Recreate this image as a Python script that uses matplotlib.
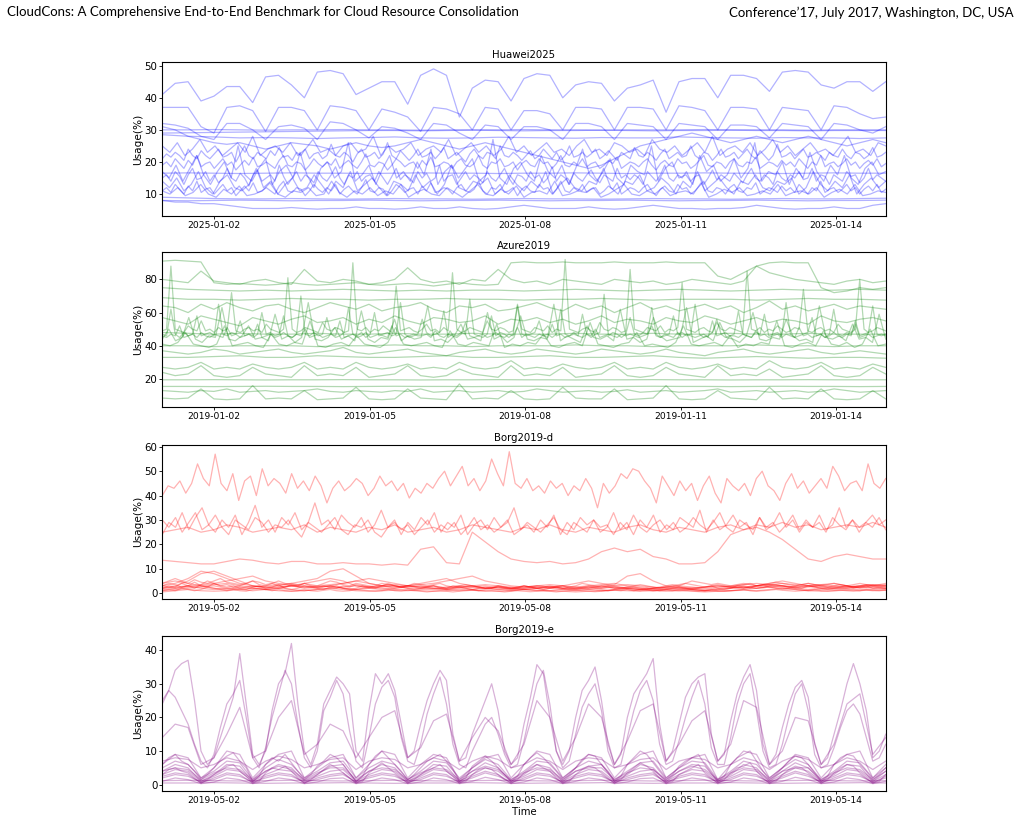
import numpy as np
import pandas as pd
import matplotlib
matplotlib.use('Agg')
import matplotlib.pyplot as plt
import matplotlib.dates as mdates

plt.rcParams['font.family'] = ['DejaVu Sans']

#%% datos (uso %), cada serie cubre 14 dias (0 a 335 h)
HORAS = 335
t0_hw = pd.Timestamp('2025-01-01 00:00')
t0_az = pd.Timestamp('2019-01-01 00:00')
t0_bg = pd.Timestamp('2019-05-01 00:00')

# Huawei2025
hw_1 = [41,44.5,45,39,40.5,43.5,43.5,38.5,46.5,47,44,40,48,48.5,47.5,41,43,45,45,38,47,49,47,34,43,45.5,45,39,46,47.5,47,40,44,45,44.5,39,43,44,45.5,35.5,45,46,46,40,47,47,46,42,48,48.5,48,44,43,45,45,42,45]
hw_2 = [37,37,37,31,29,37,37.5,36,29.5,37,37,36,30,37.5,37,36,30,36.5,35.5,34,29.5,37,36.5,35,30,37,36.5,30,36,36,35,30,37,37,36.5,30,37,37,36.5,30,37.5,37,36,30,37,37,36.5,30,37,36.5,36,30,37.5,37,35,33.5,34]
hw_3 = [32,31.5,30.5,28,27,32,32,30,27,31,31.5,30.5,27,32.5,32,30,27.5,31,30.5,29,27,32,31.5,29,27,31.5,31,27,31,31,30,27,32,32,31,27,32,31.5,31,27,32,31.5,31,27,31.5,31.5,31,27.5,32,31.5,31,27,32,31.5,30,29,31]
hw_4 = [30,30,30.1,30,29.9,30,30,30.1,30,30,29.9,30,30,30,30.1,30,30,29.9,30,30,30,30.1,30,30,30,29.9,30,30,30]
hw_5 = [29,29.1,29.2,29.3,29.4,29.5,29.6,29.7,29.8,29.8,29.7,29.8,29.9,29.8,29.7,29.8,29.8,29.9,29.8,29.7,29.8,29.8,29.9,29.8,29.8,29.7,29.8,29.8,29.8]
hw_6 = [28.5,28,27.8,27.5,27.6,27.5,27.3,27.5,27.6,27.8,27.5,27.4,27.5,27.7,27.6,27.5,27.4,27.6,27.5,27.5,27.8,27.6,27.5,27.4,27.6,27.5,27.5,27.3,27.5]
hw_7 = [31,30,28,27,26,25.5,26,25,24,25,26,25.5,25,24,25,26,25,24.5,25,26,27,26,25,24,25,26,25,24,23,22,21,20,19,18,19,21,23,25,26,27,28,29,28,27,26,27,28,27,26,27,28,27,26,25,26,27,26]
hw_8 = [16.5,16.6,16.5,16.4,16.5,16.6,16.5,16.5,16.4,16.5,16.6,16.5,16.5,16.4,16.5,16.5,16.6,16.5,16.4,16.5,16.5,16.6,16.5,16.5,16.4,16.5,16.6,16.5,16.5]
hw_9 = [9,8.8,8.6,8.5,8.5,8.6,8.5,8.4,8.5,8.6,8.5,8.5,8.4,8.5,8.6,8.5,8.5,8.4,8.5,8.6,8.5,8.5,8.4,8.5,8.6,8.5,8.5,8.6,8.7]
hw_10 = [8,7.9,8,8.1,8,7.9,8,8,8.1,8,7.9,8,8,8.1,8,7.9,8,8,8.1,8,7.9,8,8,8.1,8,7.9,8,8,8.1]
hw_11 = [8,7.5,7.5,7,7,6.5,6,5.5,5.5,5.5,5.8,5.5,5.3,5.5,5.5,6,5.5,5.5,5.3,5.5,6,5.5,5.5,6,5.5,5.3,5.5,6,6.5,6,5.5,5.5,5.5,6,5.5,5.3,5.5,6,6.5,6,5.5,5.5,5.3,5.5,5.5,5.8,6.5,6,5.5,5.3,5.5,5.5,6,5.5,5.5,6.5,7]
hw_12 = [21,22.5,21.5,23,22,20.5,24,22,21,23.5,22,21, 22.5,24,21.5,22,23,20,22.5,25,22,21,23,22,
         21,23.5,22,24.5,21.5,22,20.5,23,22,24,21,22.5, 23,21,22,25.5,22,21.5,23,22,20,22.5,24,21.5,
         22,23,21,22.5,26,22,21,23.5,22,20.5,22,24, 21.5,22,23,21,22.5,24.5,21,22,23,21.5,20,22.5,
         24,22,21,23,22.5,21,25,22,21.5,23,22,20.5, 22,23.5,21,22,24,22.5,21,23,20.5,22,25,21.5,
         22,23,21.5,22.5,24,21,22,23.5,22,20.5,23,22, 21,24.5,22,21.5,23,22,20.5,22.5,24,21,22,23,
         21.5,22,25,22,21,23,22.5,20.5,22,24,21.5,22, 23,21,22.5,24,22,21,23.5,22,20.5,22,25.5,21.5,
         22,23,21,22.5,24,21.5,22,23,22,20.5,23,22, 21.5,24,22,21,23,22.5,21,22,24.5,21.5,22,23]
hw_13 = [19,20,18.5,21,19.5,18,20.5,19,22,18.5,19.5,20, 18,19.5,21,19,20,17.5,19,20.5,19,21.5,18.5,19,
         20,19,18,20.5,22,19,18.5,20,19.5,17.5,19,21, 19.5,18.5,20,19,21,18,19.5,20.5,19,18,20,22.5,
         19,18.5,20,19.5,17.5,19,21,20,18.5,19.5,20,18, 20.5,19,21.5,18.5,19,20,19.5,18,20,21,19,18.5,
         19.5,22,19,18,20,19.5,21,18.5,19,20,17.5,19.5, 20.5,19,18.5,21,19.5,20,18,19.5,22,19,18.5,20,
         19,21,18.5,19.5,20,18,19,20.5,19.5,21.5,18,19, 20,19.5,18.5,20,21,19,17.5,19.5,20.5,19,18.5,21,
         19.5,20,18,19,20.5,22,19,18.5,20,19.5,18,20, 21,19,18.5,20,19.5,21.5,18,19,20,19.5,18.5,20.5,
         19,20,18.5,21,19.5,18,20,19,22,18.5,19.5,20, 18.5,19.5,21,19,20,18,19.5,20.5,19,21,18.5,19.5]
hw_14 = [17,15,19,14,18,22,16,13,17,20,15,25,16,14,18,21,13,17,19,15,23,16,12,18,20,15,17,26,14,16,19,13,18,22,15,17,14,20,16,24,13,17,19,15,18,21,14,16,27,15,13,18,20,16,14,22,17,15,19,13,18,24,16,14,17,21,15,13,19,17,16,25,14,18,20,15,16,13,22,17,19,14,16,21,15,18,26,14,17,16,20,13,18,15,23,17,14,19,16,22,15,13,18,20,16,17]
hw_15 = [14,12,15,11,13,17,12,10,14,16,12,11,13,18,12,14,10,13,15,11,12,16,13,10,14,12,17,11,13,15,12,9.5,14,13,11,16,12,14,10,13,19,12,11,14,13,15,10,12,16,13,11,14,12,17,10,13,15,12,11,14,13,18,12,10,14,13,16,11,12,15,13,10,14,12,17,11,13,15,12,10,14,13,16,12,11,14,13,15,10,12,17,13,11,14,12,16,10,13,15,12,14]
hw_16 = [11,10,12,9.5,10.5,13,10,9,11.5,10,12.5,9.5,10,11,13.5,10,9,11,10.5,12,9.5,10,14,10.5,9,11,10,12,9.5,11,10,13,9,10.5,11.5,10,9.5,12,10.5,9,11,13,10,9.5,11.5,10,12.5,9,10.5,11,10,14,9.5,10,11,10.5,12,9,10,11.5,13,10,9.5,11,10,12,9.5,10.5,11,10,13.5,9,10,11.5,10.5,12,9.5,10,11,10,13,9.5,10.5,11,10,12,9,10.5,11.5,10,13,9.5,10,11,10.5]
hw_17 = [25,23,26,22,24,27,23,25,22,24,26,23,28,22,24,25,23,26,22,24,27,23,24,22,25,26,23,24,28,22,25,23,24,26,22,24,25,23,27,22,24,26,23,25,22,24,28,23,25,22,24,26,23,24,22,25,27,23,24,22,26,25,23,24,22,27,24,23,25,22,24,26,23,28,22,24,25,23,26,22,24,27,23,25,22,24,26,23,24,22,25,28,23,24,22,26,25]
hw_18 = [15,16,14,17,15.5,13,16,18,14.5,15,17,14, 16,13.5,15,18,15,14,16.5,15,12.5,16,17.5,14,
         15,16,14,19,15.5,13,15,17,14,16,15,13.5, 17,15,14,16,18.5,15,13,16,15,17,14,15.5,
         16,14,17,15,13,15.5,18,14.5,16,15,13.5,17, 15,16.5,14,15,19,14,15.5,16,13,15,17,14.5,
         16,15,13.5,17,15,14,16,18,15,13,16,15.5, 14,17,15,16,13.5,15,18.5,14,16,15,13,16.5,
         15,14,16,17.5,15,13.5,16,15,14,18,15,16, 14.5,16,15,13,17,15.5,14,16,19,15,14,16,
         15,17,14,15.5,16,13,15,17.5,14.5,16,15,14, 16.5,15,13.5,16,18,15,14,16,15,13,17,15,
         14,16,15,17,14.5,15,18,14,16,15.5,13,16, 15,14,17,15.5,16,13.5,15,18,14.5,16,15,14]
hw_19 = [11,12,10.5,13,11.5,10,12.5,11,14,10.5,11.5,12, 10,11.5,13,11,12,9.5,11,12.5,11,13.5,10.5,11,
         12,11,10,12.5,14,11,10.5,12,11.5,9.5,11,13, 11.5,10.5,12,11,13,10,11.5,12.5,11,10,12,14.5,
         11,10.5,12,11.5,9.5,11,13,12,10.5,11.5,12,10, 12.5,11,13.5,10.5,11,12,11.5,10,12,13,11,10.5,
         11.5,14,11,10,12,11.5,13,10.5,11,12,9.5,11.5, 12.5,11,10.5,13,11.5,12,10,11.5,14,11,10.5,12,
         11,13,10.5,11.5,12,10,11,12.5,11.5,13.5,10,11, 12,11.5,10.5,12,13,11,9.5,11.5,12.5,11,10.5,13,
         11.5,12,10,11,12.5,14,11,10.5,12,11.5,10,12, 13,11,10.5,12,11.5,13.5,10,11,12,11.5,10.5,12.5,
         11,12,10.5,13,11.5,10,12,11,14,10.5,11.5,12, 10.5,11.5,13,11,12,10,11.5,12.5,11,13,10.5,11.5]

# Azure2019
az_1 = [91,91.5,91,90.5,78,77,77.5,77,76.5,77,78,77,76.5,77,77.5,78,77,76.5,77,77.5,77,76,77,78,77,76.5,77,90,90.5,90,90,90.5,90,90,90,90.5,90,90,90,90.5,90,90,90,82,80,84,88,90,90.5,90,90,75,72,73,75,74,75]
az_2 = [80,79,78,85,79,78,77,79,80,78,77,86,79,78,80,79,77,78,80,87,80,78,79,77,80,79,86,80,78,79,77,80,79,78,77,80,79,78,79,77,78,80,79,78,77,79,88,84,82,80,79,78,77,79,80,78,79]
az_3 = [75,74,73.5,73,73.5,73,73.5,74,73.5,73,73.5,73,73.5,73.5,73,73.5,74,73.5,73,73.5,74,73.5,73,73.5,74,73.5,73.5,74,73.5]
az_4 = [69,68,68,67.5,68,68.5,68,68,67.5,68,68,68.5,68,68,67.5,68,68,68.5,68,67.5,68,68,68,67.5,68,68.5,68,68,67.5]
az_5 = [64,63,60,65,62,66,63,61,64,65,62,60,63,66,64,62,65,61,63,64,66,62,60,64,63,65,61,62,64,66,63,61,65,62,64,60,63,66,62,64,61,63,65,62,64,60,63,67,62,64,61,63,65,62,64,63,62]
az_6 = [57,55,53,58,56,54,52,57,55,53,56,58,54,55,57,53,56,54,58,55,53,57,56,54,55,58,53,56,55,57,54,56,53,55,58,54,56,55,53,57,55,54,58,56,53,55,57,54,56,55,53,58,55,54,56,57,55]
az_7 = [47,46,62,47,45,48,46,47,58,46,47,48, 46,65,47,46,48,47,55,46,47,45,47,60,
        47,48,46,47,58,46,45,47,70,47,46,48, 46,47,57,47,45,46,48,63,47,46,48,45,
        47,60,46,47,48,46,47,66,47,45,46,47, 56,48,46,47,48,61,45,47,46,48,47,68,
        47,46,45,47,58,46,48,47,45,47,64,47, 46,47,48,55,46,47,45,47,62,47,46,48,
        46,59,47,45,47,48,71,46,48,47,45,47, 57,47,46,48,47,63,47,45,46,47,58,47,
        48,46,47,65,47,45,46,48,56,47,48,46, 47,61,47,46,45,48,47,59,46,47,48,46,
        66,47,45,46,47,48,57,46,47,45,47,62, 47,46,48,47,55,46,47,48,64,47,46,47]
az_8 = [44,50,43,45,57,44,42,46,45,63,44,43,46,52,44,45,43,59,44,46,42,45,66,44,43,45,51,44,46,43,61,44,42,45,44,56,43,46,44,45,64,43,44,42,46,53,44,45,43,60,44,46,42,45,58,44,43,45,44,65,43,46,44,42,52,45,44,46,43,62,44,45,42,44,57,46,43,44,45,63,42,44,46,43,54,45,44,42,46,60,44,43,45,44,56,46,43,44,42,64,45,44,46,43,53,44,45,42,59,44]
az_9 = [49,50,88,50,49,48,52,50,49,55,49,50, 48,51,49,50,72,49,48,50,51,49,50,48,
        53,50,49,48,50,81,50,48,49,51,50,49, 48,54,50,49,51,50,48,49,90,50,49,51,
        48,50,49,52,50,48,76,49,50,51,49,48, 50,53,49,50,48,51,49,84,50,48,49,51,
        50,49,48,55,50,49,51,50,48,49,65,50, 49,48,51,50,49,52,48,50,49,92,50,49,
        48,50,51,49,48,54,50,49,51,50,48,49, 86,50,49,48,51,50,49,52,48,50,49,51,
        78,50,49,48,50,51,49,48,54,50,49,51, 50,49,48,85,50,49,51,48,50,49,52,50,
        48,49,51,50,74,49,48,50,51,49,50,48, 53,50,49,48,50,80,50,48,49,51,50,49]
az_10 = [41,40,42,48,41,40,39,41,52,40,41,42,40,39,47,41,40,42,41,55,40,39,41,42,40,46,41,40,39,42,51,41,40,41,42,40,39,49,41,40,42,41,40,53,39,41,40,42,41,47,40,39,41,42,40,54,41,40,39,41,42,48,40,41,40,39,42,52,41,40,41,42,40,46,39,41,40,42,41,55,40,39,41,42,40,49,41,40,42,39,41,50,40,41]
az_11 = [48,47.5,47,47.5,47,47,47.5,47,47,47.5,47,47,47.5,47,47,47,47.5,47,47,47.5,47,47,47.5,47,47,47.5,47,47,47]
az_12 = [40,40,39.5,40,40,40,39.5,40,40,40.5,40,40,39.5,40,40,40,40.5,40,40,39.5,40,40,40,40.5,40,40,39.5,40,40]
az_13 = [33,33,33.5,34,33,33,34,33.5,33,33,33.5,34,33,33,33.5,34,33,33,33.5,34,33,32.5,33,33.5,33,32.5,33,33,32.5]
az_14 = [37,36,35,36,38,37,35,36,37,38,36,35,36,37,39,36,35,36,37,38,36,35,34,36,37,38,36,35,36,38,37,36,35,36,38,37,36,35,36,38,36,35,34,36,37,38,36,35,36,37,38,36,35,36,37,36,35]
az_15 = [27,26,27,30,26,27,26,29,27,26,27,30,26,27,26,30,27,26,27,29,26,27,26,30,27,26,27,31,26,27,26,29,27,26,27,30,26,27,26,30,27,26,27,29,26,27,26,31,27,26,27,30,26,27,26,29,27]
az_16 = [24,22,23,28,22,21,22,27,23,22,21,28,22,23,22,27,21,22,23,28,22,21,22,26,23,22,21,28,22,23,22,27,21,22,23,28,22,21,22,27,23,22,21,28,22,23,22,26,21,22,23,28,22,21,22,27,23]
az_17 = [19.5,19.5,19.6,19.5,19.4,19.5,19.5,19.6,19.5,19.5,19.4,19.5,19.5,19.6,19.5,19.5,19.4,19.5,19.5,19.6,19.5,19.5,19.4,19.5,19.5,19.6,19.5,19.5,19.5]
az_18 = [15.5,15.5,15.4,15.5,15.6,15.5,15.5,15.4,15.5,15.6,15.5,15.5,15.4,15.5,15.6,15.5,15.5,15.4,15.5,15.6,15.5,15.5,15.4,15.5,15.6,15.5,15.5,15.4,15.5]
az_19 = [13,12.5,12,13,12.5,14,12,12.5,13,12,12.5,13,14,12.5,12,13,12.5,12,13,12.5,14,12,12.5,13,12,12.5,13,12,12.5,14,13,12,12.5,13,12,12.5,13.5,12,12.5,13,12,12.5,13,14,12,12.5,13,12,12.5,13,12,12.5,14,13,12,12.5,13]
az_20 = [8.5,8,8.5,14,8,7.5,8,16,8,8.5,8,13,7.5,8,8.5,15,8,7.5,8,14,8.5,8,7.5,17,8,8.5,8,13,8,7.5,8,15,8.5,8,8,14,7.5,8,8.5,16,8,7.5,8,13,8.5,8,7.5,15,8,8.5,8,14,8,7.5,8,13,8]
az_21 = [46,45,47,46,52,45,46,47,45,48,46,45, 47,46,45,51,46,47,45,46,47,46,53,45,
         46,47,45,46,48,46,45,47,46,50,45,46, 47,45,46,47,46,55,45,46,47,45,46,48,
         45,46,47,46,45,52,46,47,45,46,47,46, 46,47,45,49,46,45,47,46,45,47,54,46,
         45,46,47,45,46,48,46,45,47,46,51,45, 47,46,45,47,46,45,53,46,47,45,46,47,
         46,45,47,46,50,45,46,47,46,45,47,46, 47,46,45,46,47,52,46,45,47,46,45,48,
         45,47,46,45,46,47,45,55,46,47,45,46, 46,45,47,46,45,49,46,47,45,46,47,45,
         47,46,45,51,46,47,45,46,47,45,46,48, 46,45,47,46,53,45,46,47,45,46,47,46]

# Borg2019-d
bd_1 = [40,44,43,46,41,45,53,47,44,57,45,42,49,38,46,48,40,51,44,47,45,41,49,43,46,42,48,44,37,43,46,42,44,47,45,40,43,48,44,46,42,45,39,43,41,45,43,47,50,44,48,52,44,47,42,46,55,49,44,58,45,43,47,42,44,41,46,43,45,40,44,42,47,43,35,45,41,44,49,47,51,50,46,43,37,48,44,40,46,42,45,38,44,48,41,37,47,44,42,45,40,47,50,44,42,38,45,49,43,46,41,44,47,43,52,48,42,45,46,42,53,45,43,47]
bd_2 = [24,29,27,33,26,31,35,28,25,30,27,32,24,29,36,27,30,25,31,28,33,26,29,37,28,30,26,32,29,27,31,25,28,34,27,30,24,29,26,31,28,33,25,29,27,32,24,28,30,26,31,27,29,35,26,28,25,30,27,32,24,29,26,31,28,30,25,27,33,26,29,24,30,27,32,25,28,26,31,29,27,34,25,30,26,28,32,27,29,24,31,26,28,33,27,30,25,29,27,32,26,28,35,27,30,25,29,27,31,26]
bd_3 = [30,27,31,25,29,33,26,28,32,27,24,30,28,26,31,29,25,28,27,30,26,23,29,27,25,28,31,26,24,28,27,30,25,23,27,29,26,28,24,27,30,25,28,26,29,24,27,31,26,28,25,27,30,24,26,29,27,25,28,31,26,24,29,27,25,30,27,28,24,29,26,32,27,25,28,30,26,29,25,27,31,28,26,29,33,27,25,30,28,26,31,27,29,25,28,32,26,30,27,29,25,31,28,26,30,27,29,32,28,30]
bd_4 = [25,26,27,25,26,28,27,25,26,27,26,28,25,27,26,25,27,26,28,25,26,27,25,26,28,27,26,25,27,26,28,26,25,27,26,25,27,28,26,25,27,26,25,27,28,26,27,25,22,18,14,13,15,16,15,14,14]
bd_5 = [13.5,13,12.5,12,12,13,14,13.5,12.5,12,13,13,12,12,12.5,12,12,11.5,12,11.5,18,19,12.5,12,25,21,17,14,13,12.5,13,12,12.5,14,17,18.5,17,18,15,14,12,12,12.5,17,24,26,28,27,29,27,28,26,27,28,27,29,27]
bd_6 = [2,3,5,8,9,7,5,3,2,2.5,3,2,2.5,3,2,1.5,2,2.5,3,2,2,1.5,2,2.5,3,2,2.5,2,1.5,2,2.5,3,2,2.5,3,2,2.5,2,1.5,2,2.5,2,1.5,2,2.5,3,2,2.5,3,2,2.5,3,2.5,2,2.5,3,2.5]
bd_7 = [3,4,6,9,8,6,4,3,2.5,3,4,5,6,9,10,7,4,3,3.5,3,2.5,3,2,2.5,3,3.5,3,2.5,2,3,3.5,3,2.5,2,3,3.5,7,8,5,3,2.5,2,2.5,3,2.5,2,3,3.5,3,2.5,3,3.5,4,3,2.5,3,3.5]
bd_8 = [1,1.5,2,2.5,3,2,1.5,1,1.5,2,3,4,5,6,5,3,2,1.5,2,3,4,5,6,4,3,2,1.5,1,1.5,2,2.5,3,4,5,4,3,2,1.5,1,1.5,2,1.5,1,1.5,2,2.5,3,4,5,4,3,2,1.5,2,2.5,2,1.5]
bd_9 = [4,5,4,3,3.5,4,3,2.5,3,3.5,4,3,2.5,3,4,5,4,3,2.5,3,3.5,4,5,6,7,5,4,3,2.5,3,2.5,2,2.5,3,3.5,4,3,2.5,2,2.5,3,2.5,2,2.5,3,3.5,4,3.5,3,2.5,3,3.5,3,2.5,3,3.5,3]
bd_10 = [0.5,1,1.5,1,0.8,1,1.5,2,1.5,1,0.8,1,1.5,2,1.5,1,0.8,1,1.2,1.5,1,0.8,1,1.5,1.2,1,0.8,1,1.5,1.2,1,0.8,0.5,0.8,1,1.2,1,0.8,1,1.5,1,0.8,0.5,0.8,1,1.2,1,1.5,2,1.5,1,0.8,1,1.2,1.5,1,1.2]
bd_11 = [2,2.5,3,3.5,4,5,6,7,5,4,3,2.5,3,3.5,4,5,6,5,4,3,2.5,2,2.5,3,2.5,2,1.5,2,2.5,3,2.5,2,1.5,2,2.5,3,3.5,3,2.5,2,1.5,2,2.5,3,2.5,2,3,3.5,4,3.5,3,2.5,2,2.5,3,3.5,3]
bd_12 = [3,2,2.5,3,2,1.5,2,3,2.5,2,3,2.5,2,3,2,1.5,2.5,3,2,2.5,3,2,1.5,2,2.5,3,2,1.5,2,2.5,2,1.5,1,1.5,2,2.5,2,1.5,2,2.5,2,1.5,1,1.5,2,2.5,2,3,2.5,2,1.5,2,2.5,3,2,2.5,2]
bd_13 = [1.5,2,3,2,1.5,2,2.5,2,1.5,2,1.5,1,1.5,2,2.5,3,2.5,2,1.5,1,1.5,2,1.5,1,1.5,2,2.5,2,1.5,1,1,1.5,2,1.5,1,1.5,2,1.5,1,0.8,1,1.5,1,0.8,1,1.5,2,2.5,2,1.5,1,1.5,2,1.5,1,1.5,2]
bd_14 = [2,3,2.5,4,3,2,3.5,5,4,3,2.5,3,2,1.5,2.5,3,2,2.5,3.5,2,1.5,2,3,2.5,2,1.5,2.5,3,2,1.5,2,3,2.5,2,3,4,3,2.5,2,1.5,2,2.5,3,2,1.5,2,2.5,2,1.5,1,1.5,2,2.5,2,1.5,2,3,2.5,2,1.5,2,2.5,3,2,1.5,2,2.5,2,1.5,1,1.5,2,1.5,1,1.5,2,1.5,1,1.5,2,2.5,2,1.5,2,2.5,3,2,1.5,2,3,2.5,2,3,3.5,2.5,2,1.5,2,2.5,2,3,2.5,2,1.5,2,2.5,3,2,2.5,3,2,2.5,2]
bd_15 = [3,4,3.5,2.5,3,4.5,3,2.5,4,3,3.5,2.5,3,4,5,3.5,3,4,3,2.5,3.5,3,4,3,2.5,3,2.5,2,3,2.5,3.5,3,2.5,3,4,3.5,3,2.5,3,2.5,2,2.5,3,2.5,2,3,2.5,2,1.5,2,2.5,2,3,2.5,2,2.5,3,2.5,2,1.5,2,2.5,2,1.5,2,2.5,3,2.5,2,2.5,2,1.5,2,2.5,2,1.5,2,2.5,3,3.5,3,4,3.5,3,2.5,3,3.5,3,2.5,3,3.5,4,3,2.5,3,3.5,3,2.5,3,3.5,4,3.5,3,2.5,3,3.5,3,2.5,3,3.5,3,2.5,3]
bd_16 = [1,1.5,1,2,1.5,1,1.5,2.5,2,1.5,1,1.5,1,0.8,1.5,2,1.5,1,1.5,1,0.8,1,1.5,1,0.8,1.2,1.5,1,0.8,1,1.5,1.2,1,0.8,1,1.5,1,0.8,1.2,1,0.8,0.5,0.8,1,0.8,0.5,0.8,1,1.2,1,0.8,1,0.8,0.5,0.8,1,0.8,0.6,0.8,1,0.8,0.5,0.8,1,1.2,1,0.8,0.6,0.8,1,1.2,1,1.5,1.2,1,1.5,2,1.5,1.2,1,1.5,1.2,1,0.8,1,1.5,1,0.8,1,1.2,1.5,1,0.8,1,1.2,1.5,1.2,1,0.8,1,1.2,1.5,1,0.8,1,1.2,1,0.8,1,1.5,1.2,1,1.2]
bd_17 = [4,5,6,5,4,5.5,4.5,4,5,6,4.5,4,3.5,4,5,4.5,3.5,4,5,4,3.5,3,4,3.5,3,4,5,4.5,3.5,3,4,3.5,3,2.5,3,3.5,3,2.5,3,4,3.5,3,3.5,4,3,2.5,3,3.5,3,2.5,2,2.5,3,2.5,2,2.5,3,2.5,2,2.5,3,2.5,2,2.5,3,4,3.5,3,2.5,3,2.5,2,2.5,3,3.5,3,2.5,2,2.5,3,3.5,4,5,4.5,4,3.5,4,3.5,3,3.5,4,3.5,3,3.5,4,4.5,4,3.5,3,3.5,4,3.5,3,3.5,4,3.5,3,3.5,4,3.5,3,3.5,4]

# Borg2019-e
be_1 = [24,28,34,36,37,25,10,6, 8,14,20,26,39,24,9,6, 10,22,30,33,42,24,10,6, 12,24,28,32,30,27,10,7,
        22,33,30,33,28,18,8,10, 18,25,30,34,31,15,7,8, 15,20,25,30,22,10,6,8, 18,26,35.7,33,20,10,6,10,
        20,28,31,35,25,12,6,9, 20,27,30,33,37.5,18,7,10, 18,26,30,32,33,15,7,9, 19,27,32,35.7,28,12,6,9,
        17,24,29,31,26,12,6,8, 15,22,30,36,30,22,8,10, 15]
be_2 = [25,28,26,22,18,12,7,5, 9,17,24,27,31,20,8,5, 11,20,27,34,30,18,8,5, 10,22,26,31,27,16,7,5,
        14,24,29,31,26,14,7,6, 12,21,27,32,24,12,6,5, 10,14,18,20,15,9,5,6, 13,22,30,34,24,10,5,7,
        15,23,27,30,22,10,5,6, 14,22,28,31,25,12,6,7, 13,20,26,31,24,11,6,6, 14,24,30,33,22,10,5,6,
        12,20,27,30,22,9,5,6, 11,17,22,24,21,14,7,8, 12]
be_3 = [14,18,17,6,8,15,23,8,10,20,25,9,12,18,16,8,14,20,22,8,11,19,21,7,14,20,16,6,12,25,20,7,14,24,20,6,13,22,24,7,12,19,22,7,12,25,23,6,10,20,19,6,12,24,27,9,14]
be_4 = [6,9,8,2,5,10,9,2,6,9,10,2,5,8,9,2,6,10,9,2,6,9,8,1.5,5,8,9,2,6,10,9,2,5,9,8,2,6,9,10,2,5,8,9,1.5,6,10,9,2,5,9,8,2,6,9,10,2,6]
be_5 = [5,7,6,2,4,7,6.5,1.5,5,7.5,6,2,4,6.5,7,2,5,7,6,1.5,4,7,6.5,2,5,7.5,6,1.5,4,7,6.5,2,5,7,6,1.5,4,6.5,7,2,5,7,6.5,1.5,4,7,6,2,5,7.5,6,1.5,4,7,6.5,2,5]
be_6 = [4,6,5,1,3,6,5.5,1,4,6,5,1.2,3,5.5,6,1,4,6,5,1,3,6,5.5,1,4,6.5,5,1,3,6,5,1,4,5.5,6,1,3,6,5,1,4,6,5.5,1,3,6,5,1,4,6.5,5,1,3,6,5.5,1,4]
be_7 = [4,5,4.5,1.5,3.5,5,4.5,1.5,4,5.5,4.5,1.5,3.5,5,5,1.5,4,5,4.5,1.5,3.5,5,4.5,1.5,4,5.5,4.5,1.5,3.5,5,4.5,1.5,4,5,5,1.5,3.5,5,4.5,1.5,4,5.5,4.5,1.5,3.5,5,4.5,1.5,4,5,5,1.5,3.5,5,4.5,1.5,4]
be_8 = [3,4.5,4,1,2.5,4.5,4,1,3,4.5,4,1,2.5,4,4.5,1,3,4.5,4,1,2.5,4.5,4,1,3,5,4,1,2.5,4.5,4,1,3,4.5,4,1,2.5,4,4.5,1,3,4.5,4,1,2.5,4.5,4,1,3,5,4,1,2.5,4.5,4,1,3]
be_9 = [2.5,3.5,3,0.5,2,3.5,3,0.5,2.5,3.5,3,0.5,2,3,3.5,0.5,2.5,3.5,3,0.5,2,3.5,3,0.5,2.5,4,3,0.5,2,3.5,3,0.5,2.5,3.5,3,0.5,2,3,3.5,0.5,2.5,3.5,3,0.5,2,3.5,3,0.5,2.5,4,3,0.5,2,3.5,3,0.5,2.5]
be_10 = [2,3,2.5,0.8,1.5,3,2.5,0.8,2,3,2.5,0.8,1.5,2.5,3,0.8,2,3,2.5,0.8,1.5,3,2.5,0.8,2,3.5,2.5,0.8,1.5,3,2.5,0.8,2,3,2.5,0.8,1.5,2.5,3,0.8,2,3,2.5,0.8,1.5,3,2.5,0.8,2,3.5,2.5,0.8,1.5,3,2.5,0.8,2]
be_11 = [1.2,1.3,1.2,1.1,1.2,1.3,1.2,1.1,1.2,1.3,1.2,1.1,1.2,1.3,1.2,1.1,1.2,1.3,1.2,1.1,1.2,1.3,1.2,1.1,1.2,1.3,1.2,1.1,1.2]
be_12 = [0.5,0.5,0.6,0.5,0.4,0.5,0.5,0.6,0.5,0.4,0.5,0.5,0.6,0.5,0.4,0.5,0.5,0.6,0.5,0.4,0.5,0.5,0.6,0.5,0.4,0.5,0.5,0.6,0.5]
be_13 = [1,2,1.5,0.3,0.8,2,1.5,0.3,1,2,1.5,0.3,0.8,1.8,2,0.3,1,2,1.5,0.3,0.8,2,1.5,0.3,1,2.2,1.5,0.3,0.8,2,1.5,0.3,1,2,1.5,0.3,0.8,1.8,2,0.3,1,2,1.5,0.3,0.8,2,1.5,0.3,1,2.2,1.5,0.3,0.8,2,1.5,0.3,1]
be_14 = [7,8,7.5,5,6,8,7,4.5,7,8.5,7.5,5,6,7.5,8,4.5,7,8,7.5,5,6,8,7,4.5,7,8.5,7.5,5,6,8,7,4.5,7,8,7.5,5,6,7.5,8,4.5,7,8,7.5,5,6,8,7,4.5,7,8.5,7.5,5,6,8,7,4.5,7]
be_15 = [6,8,9,7,6,4,1.5,3, 5,7,8.5,9.5,7,5,1,2.5, 6,8,7,9,6.5,4,1.5,3, 5.5,7,9,8,6,3.5,1,2.5,
         6,8.5,10,8,6,4,1.5,3, 5,7,8,9,7,4.5,1,2, 5.5,7,8.5,7,5,3,1,2.5, 6,8,9.5,8,6,4,1.5,3,
         5,7.5,9,8.5,6,4,1,2.5, 6,8,10,9,6.5,4,1.5,3, 5.5,7,8,9,6,3.5,1,2.5, 6,8,9,10,7,4,1.5,3,
         5,7,8.5,8,6,3.5,1,2.5, 6,8,9,8.5,6,4,1.5,3, 5]
be_16 = [3,4.5,5,4,3.5,2,0.5,1.5, 3,4,5.5,6,4,2.5,0.5,1, 3.5,5,4.5,5.5,4,2,0.5,1.5, 3,4.5,6,5,3.5,2,0.5,1,
         3.5,5,6.5,5,3.5,2,0.5,1.5, 3,4,5,6,4,2.5,0.5,1, 3,4.5,5,4.5,3,1.5,0.5,1.5, 3.5,5,6,5,4,2,0.5,1,
         3,4.5,5.5,5,3.5,2,0.5,1.5, 3.5,5,6.5,5.5,4,2,0.5,1, 3,4,5,6,3.5,2,0.5,1.5, 3.5,5,5.5,6.5,4,2,0.5,1,
         3,4.5,5.5,5,3.5,2,0.5,1.5, 3.5,5,6,5.5,3.5,2,0.5,1, 3]

paneles = [
    ('Huawei2025', t0_hw, 'blue', [hw_1, hw_2, hw_3, hw_4, hw_5, hw_6, hw_7, hw_8, hw_9, hw_10, hw_11,
                                   hw_12, hw_13, hw_14, hw_15, hw_16, hw_17, hw_18, hw_19]),
    ('Azure2019', t0_az, 'green', [az_1, az_2, az_3, az_4, az_5, az_6, az_7, az_8, az_9, az_10, az_11,
                                   az_12, az_13, az_14, az_15, az_16, az_17, az_18, az_19, az_20, az_21]),
    ('Borg2019-d', t0_bg, 'red', [bd_1, bd_2, bd_3, bd_4, bd_5, bd_6, bd_7, bd_8, bd_9, bd_10, bd_11,
                                  bd_12, bd_13, bd_14, bd_15, bd_16, bd_17]),
    ('Borg2019-e', t0_bg, 'purple', [be_1, be_2, be_3, be_4, be_5, be_6, be_7, be_8, be_9, be_10, be_11,
                                     be_12, be_13, be_14, be_15, be_16]),
]

#%% figura
fig = plt.figure(figsize=(10.21, 8.25), dpi=100)
fondos = [0.738, 0.507, 0.274, 0.0416]

for (titulo, t0, color, series), fondo in zip(paneles, fondos):
    ax = fig.add_axes([0.1589, fondo, 0.7086, 0.187])
    for s in series:
        t = t0 + pd.to_timedelta(np.linspace(0, HORAS, len(s)), unit='h')
        ax.plot(t, s, color=color, alpha=0.3, lw=0.9)
    ax.set_xlim(t0, t0 + pd.Timedelta(hours=HORAS))
    ax.xaxis.set_major_locator(mdates.DayLocator(bymonthday=[2, 5, 8, 11, 14]))
    ax.xaxis.set_major_formatter(mdates.DateFormatter('%Y-%m-%d'))
    ax.tick_params(length=2, width=0.6, pad=1.5)
    ax.tick_params(axis='x', labelsize=6.6)
    ax.tick_params(axis='y', labelsize=7.4)
    ax.set_title(titulo, fontsize=7.3, pad=2.5)
    ax.set_ylabel('Usage(%)', fontsize=7.6, labelpad=0.8)

ax.set_xlabel('Time', fontsize=7.3, labelpad=2)

fig.text(0.007, 0.985, 'CloudCons: A Comprehensive End-to-End Benchmark for Cloud Resource Consolidation',
         fontsize=9.5, family='Lato', va='center', ha='left')
fig.text(0.993, 0.985, 'Conference\u201917, July 2017, Washington, DC, USA',
         fontsize=9.5, family='Lato', va='center', ha='right')

plt.savefig('out.png', dpi=100)
